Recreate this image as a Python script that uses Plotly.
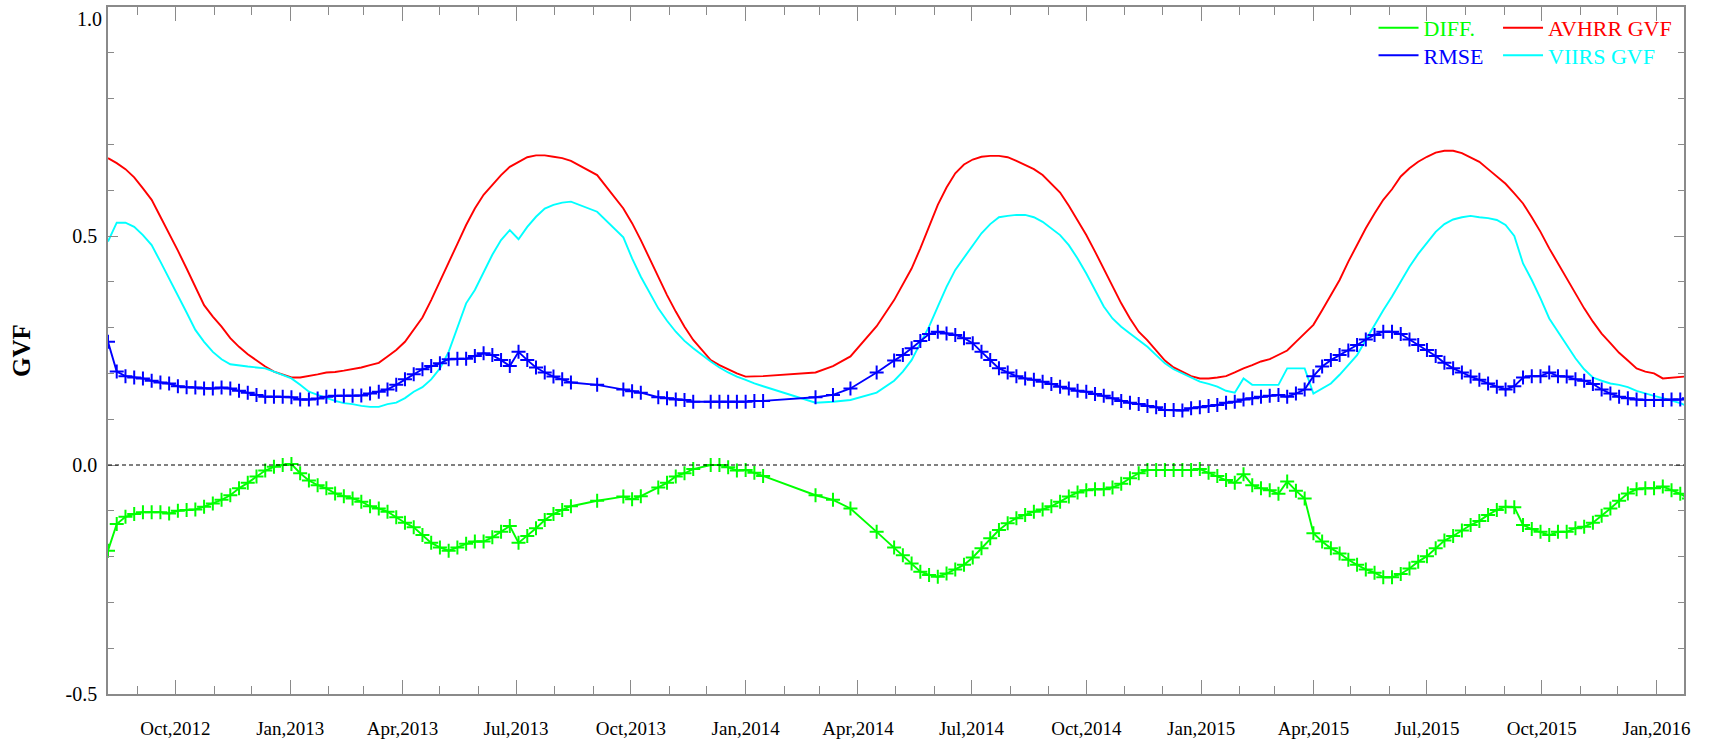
import datetime as dt
import plotly.graph_objects as go

# ---- data (weekly observations; week number counted from 2012-08-08) ----
BASE_DATE = "2012-08-08"
WEEK = [0, 1, 2, 3, 4, 5, 6, 7, 8, 9, 10, 11, 12, 13, 14, 15, 16, 17, 18, 19,
        20, 21, 22, 23, 24, 25, 26, 27, 28, 29, 30, 31, 32, 33, 34, 35, 36, 37, 38, 39,
        40, 41, 42, 43, 44, 45, 46, 47, 48, 49, 50, 51, 52, 53,
        56, 59, 60, 61, 63, 64, 65, 66, 67, 69, 70, 71, 72, 73, 74, 75,
        81, 83, 85, 88,
        90, 91, 92, 93, 94, 95, 96, 97, 98, 99, 100, 101, 102, 103, 104, 105, 106, 107, 108, 109,
        110, 111, 112, 113, 114, 115, 116, 117, 118, 119, 120, 121, 122, 123, 124, 125, 126, 127, 128, 129,
        130, 131, 132, 133, 134, 135, 136, 137, 138, 139, 140, 141, 142, 143, 144, 145, 146, 147, 148, 149,
        150, 151, 152, 153, 154, 155, 156, 157, 158, 159, 160, 161, 162, 163, 164, 165, 166, 167, 168, 169,
        170, 171, 172, 173, 174, 175, 176, 177, 178, 179, 180, 181]

AVHRR_GVF = [0.670, 0.659, 0.646, 0.628, 0.604, 0.579, 0.542, 0.506, 0.468, 0.429,
             0.389, 0.349, 0.324, 0.302, 0.277, 0.258, 0.242, 0.228, 0.215, 0.204,
             0.197, 0.191, 0.191, 0.194, 0.198, 0.202, 0.203, 0.206, 0.209, 0.213,
             0.218, 0.223, 0.237, 0.251, 0.269, 0.295, 0.322, 0.360, 0.400, 0.442,
             0.483, 0.524, 0.560, 0.590, 0.611, 0.633, 0.651, 0.662, 0.672, 0.676,
             0.676, 0.673, 0.670, 0.664,
             0.633, 0.560, 0.528, 0.491, 0.411, 0.371, 0.335, 0.302, 0.273,
             0.229, 0.218, 0.209, 0.200, 0.193, 0.193, 0.194,
             0.202, 0.216, 0.237, 0.303,
             0.360, 0.393, 0.429, 0.473, 0.520, 0.568, 0.606, 0.637, 0.656, 0.667,
             0.673, 0.675, 0.675, 0.672, 0.664, 0.655, 0.646, 0.633, 0.615, 0.595,
             0.566, 0.535, 0.502, 0.466, 0.429, 0.393, 0.353, 0.320, 0.291, 0.272,
             0.251, 0.228, 0.213, 0.204, 0.194, 0.189, 0.189, 0.191, 0.194, 0.202,
             0.211, 0.218, 0.226, 0.231, 0.240, 0.250, 0.269, 0.287, 0.306, 0.338,
             0.371, 0.404, 0.444, 0.480, 0.517, 0.549, 0.579, 0.602, 0.630, 0.648,
             0.662, 0.673, 0.682, 0.686, 0.686, 0.681, 0.672, 0.662, 0.646, 0.630,
             0.614, 0.593, 0.571, 0.541, 0.509, 0.473, 0.440, 0.408, 0.375, 0.342,
             0.313, 0.287, 0.266, 0.245, 0.228, 0.211, 0.204, 0.200, 0.189, 0.191,
             0.193, 0.194]

VIIRS_GVF = [0.488, 0.529, 0.529, 0.520, 0.502, 0.480, 0.444, 0.408, 0.371, 0.333,
             0.295, 0.269, 0.247, 0.231, 0.220, 0.217, 0.215, 0.213, 0.211, 0.204,
             0.197, 0.189, 0.175, 0.160, 0.153, 0.146, 0.140, 0.135, 0.133, 0.129,
             0.127, 0.127, 0.133, 0.136, 0.146, 0.160, 0.170, 0.187, 0.211, 0.247,
             0.302, 0.353, 0.382, 0.422, 0.459, 0.491, 0.513, 0.493, 0.520, 0.542,
             0.560, 0.568, 0.573, 0.575,
             0.553, 0.497, 0.451, 0.411, 0.342, 0.315, 0.291, 0.271, 0.255,
             0.226, 0.213, 0.202, 0.193, 0.186, 0.178, 0.172,
             0.136, 0.138, 0.142, 0.158,
             0.184, 0.204, 0.229, 0.266, 0.302, 0.346, 0.389, 0.426, 0.453, 0.480,
             0.506, 0.526, 0.541, 0.544, 0.546, 0.546, 0.541, 0.531, 0.517, 0.502,
             0.480, 0.451, 0.418, 0.382, 0.346, 0.320, 0.302, 0.287, 0.273, 0.258,
             0.240, 0.222, 0.209, 0.200, 0.191, 0.182, 0.177, 0.171, 0.162, 0.158,
             0.189, 0.175, 0.175, 0.175, 0.175, 0.211, 0.211, 0.211, 0.156, 0.167,
             0.178, 0.197, 0.218, 0.240, 0.273, 0.306, 0.338, 0.368, 0.400, 0.433,
             0.461, 0.484, 0.509, 0.526, 0.536, 0.541, 0.544, 0.541, 0.539, 0.535,
             0.524, 0.500, 0.440, 0.404, 0.364, 0.320, 0.291, 0.262, 0.233, 0.209,
             0.191, 0.184, 0.178, 0.175, 0.170, 0.162, 0.156, 0.151, 0.146, 0.140,
             0.135, 0.127]

RMSE = [0.269, 0.204, 0.194, 0.191, 0.189, 0.184, 0.180, 0.178, 0.172, 0.170,
        0.169, 0.167, 0.167, 0.169, 0.167, 0.162, 0.158, 0.153, 0.149, 0.149,
        0.149, 0.148, 0.143, 0.143, 0.145, 0.149, 0.151, 0.151, 0.151, 0.152,
        0.156, 0.160, 0.165, 0.175, 0.187, 0.198, 0.209, 0.216, 0.222, 0.231,
        0.232, 0.232, 0.238, 0.244, 0.240, 0.229, 0.216, 0.247, 0.229, 0.213,
        0.202, 0.193, 0.187, 0.180,
        0.175, 0.165, 0.161, 0.158, 0.148, 0.146, 0.143, 0.142, 0.138,
        0.138, 0.138, 0.138, 0.138, 0.138, 0.140, 0.140,
        0.148, 0.153, 0.167, 0.202,
        0.228, 0.240, 0.255, 0.271, 0.286, 0.291, 0.287, 0.284, 0.277, 0.266,
        0.247, 0.229, 0.211, 0.202, 0.194, 0.189, 0.186, 0.182, 0.177, 0.171,
        0.167, 0.162, 0.160, 0.155, 0.151, 0.146, 0.140, 0.136, 0.133, 0.129,
        0.126, 0.120, 0.120, 0.119, 0.124, 0.126, 0.129, 0.131, 0.136, 0.138,
        0.143, 0.146, 0.149, 0.151, 0.153, 0.149, 0.156, 0.165, 0.194, 0.215,
        0.229, 0.240, 0.250, 0.262, 0.274, 0.284, 0.291, 0.291, 0.286, 0.274,
        0.262, 0.251, 0.238, 0.223, 0.211, 0.202, 0.193, 0.186, 0.178, 0.171,
        0.165, 0.172, 0.191, 0.194, 0.194, 0.202, 0.194, 0.193, 0.187, 0.184,
        0.177, 0.165, 0.156, 0.149, 0.146, 0.143, 0.142, 0.142, 0.142, 0.143,
        0.143, 0.146]

DIFF = [-0.187, -0.129, -0.113, -0.107, -0.103, -0.103, -0.103, -0.106, -0.100, -0.098,
        -0.097, -0.091, -0.084, -0.076, -0.066, -0.051, -0.039, -0.025, -0.012, -0.004,
        0.000, 0.002, -0.018, -0.034, -0.044, -0.051, -0.062, -0.068, -0.073, -0.080,
        -0.090, -0.095, -0.102, -0.114, -0.126, -0.136, -0.153, -0.170, -0.180, -0.187,
        -0.180, -0.172, -0.167, -0.167, -0.158, -0.146, -0.133, -0.170, -0.155, -0.138,
        -0.120, -0.107, -0.098, -0.090,
        -0.078, -0.069, -0.075, -0.068, -0.049, -0.039, -0.025, -0.018, -0.009,
        0.000, 0.000, -0.005, -0.012, -0.011, -0.017, -0.024,
        -0.066, -0.076, -0.095, -0.146,
        -0.180, -0.197, -0.215, -0.233, -0.240, -0.244, -0.237, -0.228, -0.218, -0.202,
        -0.182, -0.160, -0.142, -0.127, -0.116, -0.109, -0.102, -0.097, -0.090, -0.080,
        -0.069, -0.060, -0.055, -0.053, -0.053, -0.049, -0.041, -0.029, -0.018, -0.011,
        -0.011, -0.011, -0.011, -0.011, -0.011, -0.009, -0.017, -0.024, -0.033, -0.039,
        -0.020, -0.044, -0.051, -0.055, -0.063, -0.036, -0.056, -0.073, -0.149, -0.167,
        -0.182, -0.193, -0.207, -0.218, -0.228, -0.235, -0.245, -0.245, -0.238, -0.226,
        -0.211, -0.199, -0.182, -0.165, -0.155, -0.143, -0.131, -0.122, -0.109, -0.098,
        -0.091, -0.092, -0.131, -0.140, -0.146, -0.153, -0.146, -0.146, -0.138, -0.135,
        -0.126, -0.111, -0.095, -0.078, -0.062, -0.053, -0.051, -0.051, -0.047, -0.055,
        -0.063, -0.073]

X_RANGE = ["2012-08-08", "2016-01-23"]
Y_RANGE = [-0.5, 1.0]
Y_TICKS = [-0.5, 0.0, 0.5, 1.0]
Y_TICKTEXT = ["-0.5", "0.0", "0.5", ""]   # the top label is placed just below the frame (see annotation)
Y_TOP_LABEL = "1.0"

for s in (AVHRR_GVF, VIIRS_GVF, RMSE, DIFF):
    assert len(s) == len(WEEK), len(s)

base = dt.date.fromisoformat(BASE_DATE)
dates = [base + dt.timedelta(days=7 * w) for w in WEEK]

RED, CYAN, BLUE, GREEN = "#ff0000", "#00ffff", "#0000ff", "#00ff00"
SERIF = "Liberation Serif"
FRAME = "#8a8a8a"
LW = 1.9
TICKSIZE = 20


def legend_box(x, y, color):
    return dict(x=x, y=y, xanchor="left", yanchor="top", bgcolor="rgba(0,0,0,0)",
                borderwidth=0, itemwidth=40,
                font=dict(family=SERIF, size=22, color=color))


fig = go.Figure()

fig.add_trace(go.Scatter(x=dates, y=AVHRR_GVF, mode="lines", name="AVHRR GVF",
                         line=dict(color=RED, width=LW), legend="legend3"))
fig.add_trace(go.Scatter(x=dates, y=VIIRS_GVF, mode="lines", name="VIIRS GVF",
                         line=dict(color=CYAN, width=LW), legend="legend4"))

for series, color, nm, lg in ((DIFF, GREEN, "DIFF.", "legend"), (RMSE, BLUE, "RMSE", "legend2")):
    fig.add_trace(go.Scatter(x=dates, y=series, mode="lines", name=nm,
                             line=dict(color=color, width=LW), legend=lg))
    fig.add_trace(go.Scatter(x=dates, y=series, mode="markers", showlegend=False,
                             marker=dict(symbol="cross-thin", size=10,
                                         line=dict(color=color, width=2))))

fig.add_hline(y=0, line=dict(color="black", width=1, dash="4px,3px"))

fig.add_annotation(text=Y_TOP_LABEL, xref="paper", x=0, yref="y", y=Y_RANGE[1],
                   xanchor="right", yanchor="top", xshift=-4, yshift=1, showarrow=False,
                   font=dict(family=SERIF, size=TICKSIZE, color="black"))

fig.update_layout(
    width=1713, height=739,
    margin=dict(l=108, r=29, t=7, b=45, autoexpand=False),
    paper_bgcolor="white", plot_bgcolor="white",
    font=dict(family=SERIF, size=TICKSIZE, color="black"),
    showlegend=True,
    legend=legend_box(0.803, 1.0, GREEN),
    legend2=legend_box(0.803, 0.960, BLUE),
    legend3=legend_box(0.882, 1.0, RED),
    legend4=legend_box(0.882, 0.960, CYAN),
    xaxis=dict(
        type="date", range=X_RANGE,
        tick0="2012-10-01", dtick="M3", tickformat="%b,%Y",
        ticks="inside", ticklen=14, tickwidth=1, tickcolor=FRAME,
        minor=dict(dtick="M1", ticks="inside", ticklen=8, tickwidth=1, tickcolor=FRAME, showgrid=False),
        showline=True, linecolor=FRAME, linewidth=1.5, mirror="allticks",
        showgrid=False, zeroline=False, ticklabelstandoff=16,
        tickfont=dict(family=SERIF, size=19, color="black"),
    ),
    yaxis=dict(
        range=Y_RANGE, tickvals=Y_TICKS, ticktext=Y_TICKTEXT,
        ticks="inside", ticklen=10, tickwidth=1, tickcolor=FRAME,
        minor=dict(dtick=0.1, tick0=0, ticks="inside", ticklen=6, tickwidth=1, tickcolor=FRAME, showgrid=False),
        showline=True, linecolor=FRAME, linewidth=1.5, mirror="allticks",
        showgrid=False, zeroline=False, ticklabelstandoff=5,
        tickfont=dict(family=SERIF, size=TICKSIZE, color="black"),
        title=dict(text="<b>GVF</b>", font=dict(family=SERIF, size=25, color="black"), standoff=28),
    ),
)

fig.write_html("out.html")
